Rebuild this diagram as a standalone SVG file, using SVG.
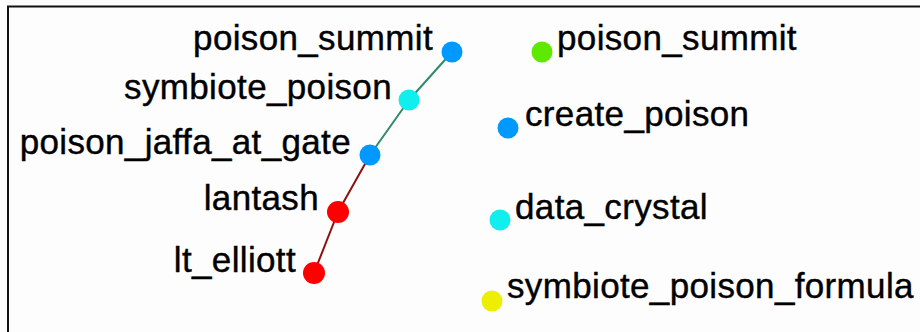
<svg xmlns="http://www.w3.org/2000/svg" width="920" height="332" viewBox="0 0 920 332">
<style>
text{font-family:"Liberation Sans",Arial,sans-serif;font-size:35px;fill:#000;stroke:#000;stroke-width:0.4;letter-spacing:0.35px}
.l{text-anchor:end}
.e{fill:none;stroke-width:2}
.g{stroke:#2e8b6a}
.r{stroke:#8b1010}
</style>
<rect x="0" y="0" width="920" height="332" fill="#fdfdfd"/>
<path d="M8 332V6.5H920" fill="none" stroke="#111" stroke-width="2"/>
<g id="connectors">
<line class="e g" x1="452" y1="52" x2="409" y2="100"/>
<line class="e g" x1="409" y1="100" x2="370" y2="155"/>
<line class="e r" x1="370" y1="155" x2="338" y2="212"/>
<line class="e r" x1="338" y1="212" x2="314" y2="273"/>
</g>
<g id="n_poison_summit_1"><circle cx="452" cy="52" r="10.5" fill="#0099ff"/><text class="l" x="433" y="50">poison_summit</text></g>
<g id="n_symbiote_poison"><circle cx="409" cy="100" r="10.5" fill="#11eeee"/><text class="l" x="392" y="99">symbiote_poison</text></g>
<g id="n_poison_jaffa_at_gate"><circle cx="370" cy="155" r="10.5" fill="#0099ff"/><text class="l" x="351" y="154">poison_jaffa_at_gate</text></g>
<g id="n_lantash"><circle cx="338" cy="212" r="11" fill="#ff0000"/><text class="l" x="319" y="210">lantash</text></g>
<g id="n_lt_elliott"><circle cx="314" cy="273" r="11" fill="#ff0000"/><text class="l" x="296" y="272">lt_elliott</text></g>
<g id="n_poison_summit_2"><circle cx="542" cy="52" r="10.5" fill="#5eea00"/><text x="557" y="50">poison_summit</text></g>
<g id="n_create_poison"><circle cx="508" cy="128" r="10.5" fill="#0099ff"/><text x="525" y="126">create_poison</text></g>
<g id="n_data_crystal"><circle cx="500" cy="220" r="10.5" fill="#11eeee"/><text x="515" y="219">data_crystal</text></g>
<g id="n_symbiote_poison_formula"><circle cx="492" cy="301" r="10.5" fill="#eeee00"/><text x="507" y="298">symbiote_poison_formula</text></g>
</svg>
